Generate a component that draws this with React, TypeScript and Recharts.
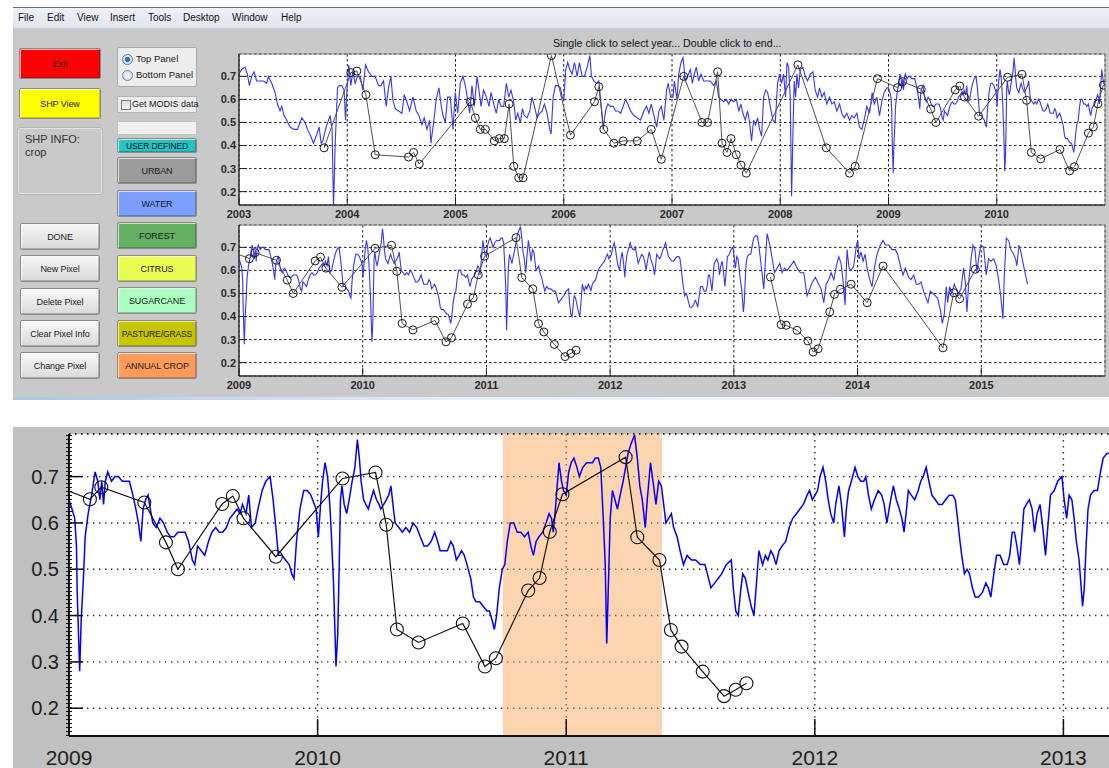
import React from "react";
import {
  LineChart,
  Line,
  XAxis,
  YAxis,
  CartesianGrid,
  ReferenceLine,
  ReferenceArea,
} from "recharts";

const FONT = '"Liberation Sans", Arial, sans-serif';

const blueEarly: [number, number][] = [
  [2003.0, 0.71], [2003.025, 0.73], [2003.056, 0.74], [2003.077, 0.71], [2003.096, 0.66], [2003.117, 0.7],
  [2003.139, 0.72], [2003.163, 0.68], [2003.194, 0.68], [2003.225, 0.68], [2003.256, 0.67], [2003.271, 0.7],
  [2003.302, 0.67], [2003.333, 0.63], [2003.355, 0.58], [2003.379, 0.55], [2003.395, 0.57], [2003.416, 0.53],
  [2003.441, 0.51], [2003.472, 0.48], [2003.509, 0.47], [2003.54, 0.47], [2003.58, 0.52], [2003.611, 0.5],
  [2003.632, 0.47], [2003.663, 0.44], [2003.688, 0.41], [2003.712, 0.44], [2003.74, 0.48], [2003.759, 0.41],
  [2003.774, 0.42], [2003.805, 0.48], [2003.842, 0.53], [2003.86, 0.47], [2003.873, 0.13], [2003.888, 0.4],
  [2003.91, 0.65], [2003.928, 0.66], [2003.95, 0.66], [2003.971, 0.64], [2003.984, 0.51], [2003.996, 0.63],
  [2004.014, 0.75], [2004.033, 0.66], [2004.051, 0.72], [2004.073, 0.67], [2004.095, 0.7], [2004.119, 0.7],
  [2004.144, 0.64], [2004.169, 0.75], [2004.196, 0.72], [2004.227, 0.7], [2004.258, 0.7], [2004.289, 0.66],
  [2004.311, 0.66], [2004.335, 0.68], [2004.36, 0.57], [2004.381, 0.65], [2004.403, 0.7], [2004.421, 0.6],
  [2004.443, 0.56], [2004.474, 0.55], [2004.505, 0.54], [2004.526, 0.62], [2004.551, 0.59], [2004.576, 0.55],
  [2004.607, 0.61], [2004.637, 0.55], [2004.662, 0.53], [2004.69, 0.49], [2004.711, 0.52], [2004.736, 0.47],
  [2004.761, 0.51], [2004.773, 0.41], [2004.798, 0.5], [2004.822, 0.6], [2004.847, 0.65], [2004.866, 0.58],
  [2004.884, 0.53], [2004.906, 0.5], [2004.927, 0.61], [2004.952, 0.61], [2004.977, 0.47], [2004.998, 0.63],
  [2005.02, 0.54], [2005.044, 0.67], [2005.069, 0.7], [2005.091, 0.66], [2005.112, 0.6], [2005.131, 0.54],
  [2005.152, 0.66], [2005.174, 0.57], [2005.199, 0.7], [2005.217, 0.64], [2005.236, 0.57], [2005.26, 0.64],
  [2005.285, 0.61], [2005.31, 0.57], [2005.328, 0.63], [2005.353, 0.58], [2005.377, 0.54], [2005.399, 0.6],
  [2005.421, 0.57], [2005.445, 0.57], [2005.47, 0.67], [2005.492, 0.61], [2005.513, 0.64], [2005.538, 0.59],
  [2005.556, 0.51], [2005.575, 0.54], [2005.599, 0.5], [2005.618, 0.56], [2005.636, 0.53], [2005.661, 0.52],
  [2005.686, 0.55], [2005.707, 0.61], [2005.729, 0.57], [2005.754, 0.52], [2005.778, 0.54], [2005.8, 0.55],
  [2005.821, 0.58], [2005.846, 0.54], [2005.871, 0.47], [2005.883, 0.45], [2005.902, 0.61], [2005.923, 0.66],
  [2005.945, 0.66], [2005.969, 0.65], [2005.985, 0.61], [2006.0, 0.6], [2006.019, 0.73], [2006.037, 0.76],
  [2006.056, 0.73], [2006.077, 0.71], [2006.099, 0.76], [2006.124, 0.7], [2006.145, 0.76], [2006.17, 0.7],
  [2006.191, 0.7], [2006.216, 0.74], [2006.241, 0.79], [2006.256, 0.7], [2006.278, 0.68], [2006.302, 0.67],
  [2006.324, 0.68], [2006.346, 0.57], [2006.364, 0.47], [2006.386, 0.55], [2006.407, 0.58], [2006.432, 0.57],
  [2006.457, 0.57], [2006.478, 0.55], [2006.5, 0.55], [2006.525, 0.54], [2006.549, 0.57], [2006.571, 0.6],
  [2006.592, 0.58], [2006.617, 0.55], [2006.648, 0.53], [2006.679, 0.52], [2006.709, 0.51], [2006.74, 0.55],
  [2006.765, 0.57], [2006.787, 0.54], [2006.808, 0.58], [2006.833, 0.53], [2006.858, 0.48], [2006.879, 0.55],
  [2006.901, 0.57], [2006.925, 0.51], [2006.95, 0.64], [2006.965, 0.67], [2006.987, 0.61], [2007.009, 0.61],
  [2007.022, 0.68], [2007.046, 0.6], [2007.062, 0.71], [2007.083, 0.76], [2007.102, 0.78], [2007.123, 0.68],
  [2007.145, 0.7], [2007.169, 0.73], [2007.188, 0.67], [2007.206, 0.71], [2007.225, 0.74], [2007.246, 0.68],
  [2007.268, 0.71], [2007.292, 0.68], [2007.323, 0.68], [2007.354, 0.68], [2007.385, 0.66], [2007.409, 0.68],
  [2007.431, 0.61], [2007.452, 0.6], [2007.477, 0.59], [2007.502, 0.6], [2007.523, 0.58], [2007.545, 0.6],
  [2007.569, 0.59], [2007.594, 0.6], [2007.618, 0.55], [2007.637, 0.58], [2007.655, 0.54], [2007.677, 0.51],
  [2007.698, 0.55], [2007.717, 0.5], [2007.735, 0.42], [2007.754, 0.51], [2007.772, 0.49], [2007.791, 0.52],
  [2007.809, 0.47], [2007.828, 0.44], [2007.846, 0.61], [2007.865, 0.64], [2007.883, 0.63], [2007.908, 0.57],
  [2007.932, 0.51], [2007.954, 0.5], [2007.975, 0.67], [2007.994, 0.71], [2008.012, 0.67], [2008.031, 0.71],
  [2008.049, 0.61], [2008.062, 0.76], [2008.077, 0.74], [2008.092, 0.61], [2008.105, 0.18], [2008.117, 0.45],
  [2008.129, 0.68], [2008.142, 0.61], [2008.154, 0.71], [2008.169, 0.65], [2008.185, 0.73], [2008.209, 0.74],
  [2008.231, 0.7], [2008.252, 0.68], [2008.277, 0.71], [2008.302, 0.72], [2008.323, 0.64], [2008.345, 0.61],
  [2008.363, 0.65], [2008.385, 0.61], [2008.406, 0.63], [2008.431, 0.58], [2008.455, 0.61], [2008.477, 0.58],
  [2008.498, 0.59], [2008.523, 0.55], [2008.548, 0.58], [2008.569, 0.54], [2008.591, 0.52], [2008.615, 0.54],
  [2008.64, 0.51], [2008.662, 0.53], [2008.683, 0.52], [2008.708, 0.54], [2008.732, 0.48], [2008.754, 0.47],
  [2008.775, 0.51], [2008.8, 0.57], [2008.825, 0.54], [2008.849, 0.63], [2008.868, 0.58], [2008.892, 0.61],
  [2008.917, 0.53], [2008.938, 0.59], [2008.96, 0.63], [2008.985, 0.65],
];

const blueMid: [number, number][] = [
  [2009.0, 0.65], [2009.012, 0.63], [2009.023, 0.61], [2009.03, 0.55], [2009.033, 0.45], [2009.043, 0.28],
  [2009.049, 0.39], [2009.058, 0.48], [2009.065, 0.57], [2009.077, 0.62], [2009.091, 0.66], [2009.105, 0.71],
  [2009.116, 0.69], [2009.124, 0.65], [2009.132, 0.69], [2009.139, 0.64], [2009.146, 0.69], [2009.156, 0.71],
  [2009.171, 0.69], [2009.185, 0.7], [2009.199, 0.7], [2009.214, 0.69], [2009.228, 0.69], [2009.243, 0.69],
  [2009.257, 0.66], [2009.269, 0.63], [2009.279, 0.6], [2009.289, 0.56], [2009.298, 0.63], [2009.308, 0.65],
  [2009.318, 0.66], [2009.327, 0.63], [2009.337, 0.6], [2009.351, 0.59], [2009.366, 0.61], [2009.38, 0.6],
  [2009.395, 0.58], [2009.409, 0.57], [2009.423, 0.57], [2009.438, 0.58], [2009.452, 0.58], [2009.467, 0.58],
  [2009.481, 0.56], [2009.496, 0.52], [2009.506, 0.51], [2009.517, 0.55], [2009.532, 0.54], [2009.546, 0.53],
  [2009.561, 0.56], [2009.575, 0.58], [2009.59, 0.59], [2009.604, 0.58], [2009.618, 0.58], [2009.633, 0.59],
  [2009.647, 0.61], [2009.662, 0.62], [2009.676, 0.63], [2009.688, 0.62], [2009.698, 0.64], [2009.712, 0.62],
  [2009.723, 0.66], [2009.734, 0.59], [2009.749, 0.6], [2009.76, 0.63], [2009.777, 0.67], [2009.792, 0.69],
  [2009.809, 0.7], [2009.821, 0.65], [2009.832, 0.59], [2009.842, 0.53], [2009.857, 0.53], [2009.871, 0.52],
  [2009.886, 0.51], [2009.896, 0.49], [2009.905, 0.48], [2009.915, 0.56], [2009.929, 0.63], [2009.944, 0.67],
  [2009.958, 0.67], [2009.973, 0.66], [2009.987, 0.64], [2009.994, 0.63], [2010.003, 0.57], [2010.012, 0.64],
  [2010.02, 0.69], [2010.03, 0.73], [2010.04, 0.7], [2010.049, 0.64], [2010.055, 0.58], [2010.064, 0.47],
  [2010.074, 0.29], [2010.081, 0.36], [2010.087, 0.51], [2010.092, 0.65], [2010.098, 0.68], [2010.107, 0.64],
  [2010.117, 0.62], [2010.127, 0.65], [2010.139, 0.69], [2010.15, 0.72], [2010.16, 0.78], [2010.168, 0.74],
  [2010.175, 0.69], [2010.185, 0.65], [2010.194, 0.64], [2010.204, 0.63], [2010.214, 0.65], [2010.225, 0.67],
  [2010.237, 0.65], [2010.247, 0.64], [2010.254, 0.63], [2010.266, 0.64], [2010.276, 0.65], [2010.286, 0.66],
  [2010.295, 0.68], [2010.305, 0.63], [2010.312, 0.6], [2010.327, 0.59], [2010.341, 0.58], [2010.355, 0.59],
  [2010.37, 0.58], [2010.384, 0.6], [2010.399, 0.59], [2010.413, 0.57], [2010.428, 0.55], [2010.442, 0.55],
  [2010.457, 0.56], [2010.471, 0.58], [2010.483, 0.56], [2010.493, 0.54], [2010.507, 0.54], [2010.522, 0.54],
  [2010.536, 0.56], [2010.546, 0.55], [2010.558, 0.52], [2010.569, 0.53], [2010.579, 0.54], [2010.59, 0.53],
  [2010.601, 0.51], [2010.616, 0.48], [2010.627, 0.44], [2010.637, 0.43], [2010.652, 0.43], [2010.666, 0.42],
  [2010.681, 0.41], [2010.691, 0.41], [2010.702, 0.39], [2010.711, 0.37], [2010.72, 0.4], [2010.731, 0.46],
  [2010.743, 0.5], [2010.753, 0.51], [2010.763, 0.56], [2010.775, 0.6], [2010.789, 0.6], [2010.803, 0.58],
  [2010.818, 0.58], [2010.832, 0.57], [2010.847, 0.58], [2010.858, 0.55], [2010.868, 0.53], [2010.879, 0.56],
  [2010.89, 0.57], [2010.905, 0.58], [2010.919, 0.6], [2010.931, 0.62], [2010.941, 0.61], [2010.948, 0.58],
  [2010.955, 0.62], [2010.971, 0.73], [2010.981, 0.69], [2010.989, 0.67], [2011.0, 0.66], [2011.01, 0.71],
  [2011.02, 0.73], [2011.031, 0.74], [2011.043, 0.72], [2011.053, 0.7], [2011.067, 0.72], [2011.082, 0.73],
  [2011.096, 0.73], [2011.106, 0.73], [2011.117, 0.74], [2011.129, 0.74], [2011.139, 0.72], [2011.149, 0.61],
  [2011.157, 0.51], [2011.163, 0.34], [2011.172, 0.51], [2011.177, 0.61], [2011.186, 0.67], [2011.196, 0.65],
  [2011.206, 0.63], [2011.217, 0.66], [2011.229, 0.69], [2011.239, 0.72], [2011.249, 0.75], [2011.26, 0.77],
  [2011.275, 0.79], [2011.286, 0.74], [2011.296, 0.68], [2011.306, 0.65], [2011.318, 0.59], [2011.326, 0.65],
  [2011.339, 0.73], [2011.349, 0.69], [2011.361, 0.64], [2011.372, 0.69], [2011.383, 0.68], [2011.392, 0.64],
  [2011.401, 0.6], [2011.412, 0.61], [2011.423, 0.62], [2011.432, 0.59], [2011.446, 0.57], [2011.458, 0.54],
  [2011.472, 0.51], [2011.486, 0.53], [2011.504, 0.52], [2011.521, 0.52], [2011.539, 0.51], [2011.558, 0.51],
  [2011.568, 0.49], [2011.582, 0.46], [2011.597, 0.47], [2011.611, 0.48], [2011.625, 0.49], [2011.644, 0.51],
  [2011.664, 0.52], [2011.672, 0.46], [2011.682, 0.41], [2011.692, 0.4], [2011.701, 0.45], [2011.71, 0.49],
  [2011.721, 0.48], [2011.732, 0.45], [2011.744, 0.42], [2011.755, 0.4], [2011.764, 0.46], [2011.775, 0.54],
  [2011.79, 0.51], [2011.801, 0.53], [2011.811, 0.52], [2011.823, 0.54], [2011.833, 0.53], [2011.844, 0.51],
  [2011.856, 0.54], [2011.868, 0.55], [2011.883, 0.56], [2011.897, 0.59], [2011.911, 0.61], [2011.926, 0.62],
  [2011.94, 0.63], [2011.954, 0.64], [2011.969, 0.66], [2011.979, 0.67], [2011.99, 0.65], [2012.001, 0.66],
  [2012.011, 0.67], [2012.021, 0.7], [2012.033, 0.72], [2012.044, 0.69], [2012.054, 0.65], [2012.064, 0.62],
  [2012.076, 0.6], [2012.084, 0.64], [2012.097, 0.68], [2012.107, 0.64], [2012.119, 0.57], [2012.127, 0.63],
  [2012.136, 0.67], [2012.147, 0.69], [2012.162, 0.72], [2012.173, 0.7], [2012.185, 0.69], [2012.197, 0.69],
  [2012.205, 0.7], [2012.216, 0.66], [2012.227, 0.63], [2012.24, 0.65], [2012.255, 0.67], [2012.269, 0.66],
  [2012.279, 0.64], [2012.29, 0.6], [2012.305, 0.65], [2012.316, 0.68], [2012.328, 0.65], [2012.34, 0.63],
  [2012.35, 0.61], [2012.359, 0.58], [2012.369, 0.63], [2012.376, 0.67], [2012.388, 0.66], [2012.402, 0.65],
  [2012.416, 0.67], [2012.426, 0.69], [2012.436, 0.7], [2012.448, 0.72], [2012.459, 0.69], [2012.471, 0.66],
  [2012.485, 0.65], [2012.498, 0.64], [2012.512, 0.64], [2012.526, 0.65], [2012.541, 0.66], [2012.555, 0.66],
  [2012.565, 0.65], [2012.574, 0.61], [2012.584, 0.56], [2012.591, 0.53], [2012.602, 0.49], [2012.612, 0.5],
  [2012.622, 0.49], [2012.634, 0.46], [2012.645, 0.44], [2012.659, 0.44], [2012.674, 0.45], [2012.688, 0.47],
  [2012.698, 0.46], [2012.708, 0.44], [2012.72, 0.49], [2012.731, 0.53], [2012.745, 0.53], [2012.76, 0.51],
  [2012.774, 0.51], [2012.784, 0.53], [2012.794, 0.58], [2012.803, 0.58], [2012.813, 0.55], [2012.823, 0.51],
  [2012.831, 0.56], [2012.841, 0.63], [2012.851, 0.64], [2012.863, 0.65], [2012.874, 0.63], [2012.884, 0.58],
  [2012.894, 0.62], [2012.906, 0.64], [2012.917, 0.59], [2012.928, 0.53], [2012.937, 0.59], [2012.948, 0.66],
  [2012.963, 0.67], [2012.977, 0.69], [2012.994, 0.7], [2013.003, 0.65], [2013.013, 0.61], [2013.023, 0.66],
  [2013.034, 0.65], [2013.043, 0.61], [2013.052, 0.56], [2013.063, 0.52], [2013.077, 0.42], [2013.084, 0.46],
  [2013.092, 0.56], [2013.099, 0.63], [2013.109, 0.66], [2013.123, 0.67], [2013.137, 0.67], [2013.149, 0.71],
  [2013.16, 0.74], [2013.175, 0.75], [2013.189, 0.75],
];

const blueLate: [number, number][] = [
  [2013.202, 0.71], [2013.221, 0.62], [2013.242, 0.52], [2013.256, 0.65], [2013.269, 0.76], [2013.291, 0.71],
  [2013.31, 0.65], [2013.328, 0.59], [2013.35, 0.61], [2013.371, 0.63], [2013.39, 0.59], [2013.409, 0.61],
  [2013.431, 0.6], [2013.458, 0.62], [2013.485, 0.64], [2013.511, 0.61], [2013.538, 0.59], [2013.565, 0.59],
  [2013.592, 0.49], [2013.614, 0.52], [2013.635, 0.55], [2013.659, 0.57], [2013.686, 0.54], [2013.705, 0.52],
  [2013.727, 0.46], [2013.746, 0.54], [2013.767, 0.56], [2013.786, 0.59], [2013.808, 0.56], [2013.829, 0.62],
  [2013.848, 0.66], [2013.867, 0.63], [2013.883, 0.55], [2013.899, 0.45], [2013.915, 0.69], [2013.931, 0.61],
  [2013.947, 0.6], [2013.969, 0.62], [2013.991, 0.71], [2014.001, 0.73], [2014.012, 0.65], [2014.028, 0.68],
  [2014.044, 0.64], [2014.061, 0.67], [2014.077, 0.61], [2014.098, 0.56], [2014.117, 0.53], [2014.136, 0.61],
  [2014.157, 0.67], [2014.184, 0.71], [2014.206, 0.73], [2014.225, 0.71], [2014.252, 0.71], [2014.279, 0.69],
  [2014.306, 0.69], [2014.324, 0.67], [2014.346, 0.62], [2014.367, 0.58], [2014.386, 0.61], [2014.413, 0.57],
  [2014.432, 0.56], [2014.454, 0.58], [2014.475, 0.54], [2014.494, 0.54], [2014.513, 0.55], [2014.534, 0.51],
  [2014.553, 0.48], [2014.569, 0.46], [2014.588, 0.51], [2014.61, 0.5], [2014.629, 0.49], [2014.647, 0.48],
  [2014.669, 0.43], [2014.685, 0.37], [2014.701, 0.41], [2014.717, 0.53], [2014.728, 0.46], [2014.744, 0.53],
  [2014.763, 0.5], [2014.782, 0.54], [2014.798, 0.52], [2014.817, 0.5], [2014.836, 0.52], [2014.857, 0.61],
  [2014.871, 0.55], [2014.884, 0.42], [2014.9, 0.56], [2014.917, 0.65], [2014.933, 0.71], [2014.949, 0.69],
  [2014.965, 0.59], [2014.978, 0.65], [2014.997, 0.71], [2015.019, 0.7], [2015.04, 0.58], [2015.059, 0.65],
  [2015.078, 0.64], [2015.1, 0.65], [2015.121, 0.62], [2015.14, 0.56], [2015.159, 0.48], [2015.175, 0.39],
  [2015.186, 0.58], [2015.202, 0.74], [2015.221, 0.73], [2015.24, 0.69], [2015.261, 0.67], [2015.277, 0.65],
  [2015.288, 0.62], [2015.304, 0.71], [2015.32, 0.68], [2015.342, 0.62], [2015.358, 0.58], [2015.374, 0.54],
];

// clicked points (circles joined by the black line)
const picksEarly: [number, number][] = [
  [2003.786, 0.39], [2004.033, 0.716], [2004.089, 0.723], [2004.172, 0.62], [2004.258, 0.36], [2004.566, 0.35],
  [2004.613, 0.37], [2004.665, 0.32], [2005.137, 0.59], [2005.183, 0.52], [2005.229, 0.47], [2005.276, 0.47],
  [2005.359, 0.42], [2005.405, 0.43], [2005.451, 0.43], [2005.495, 0.58], [2005.538, 0.31], [2005.584, 0.26],
  [2005.624, 0.26], [2005.886, 0.79], [2006.062, 0.445], [2006.284, 0.59], [2006.324, 0.655], [2006.37, 0.47],
  [2006.463, 0.41], [2006.549, 0.42], [2006.679, 0.42], [2006.808, 0.47], [2006.901, 0.34], [2007.108, 0.7],
  [2007.277, 0.5], [2007.329, 0.5], [2007.422, 0.72], [2007.462, 0.41], [2007.508, 0.37], [2007.545, 0.43],
  [2007.594, 0.36], [2007.637, 0.315], [2007.686, 0.28], [2008.163, 0.75], [2008.425, 0.39], [2008.64, 0.28],
  [2008.692, 0.31], [2008.898, 0.69],
];

const picksMid: [number, number][] = [
  [2009.084, 0.651], [2009.13, 0.677], [2009.303, 0.644], [2009.39, 0.558], [2009.438, 0.5], [2009.616, 0.641],
  [2009.659, 0.658], [2009.702, 0.61], [2009.832, 0.527], [2010.1, 0.696], [2010.233, 0.709], [2010.276, 0.596],
  [2010.319, 0.37], [2010.406, 0.342], [2010.584, 0.383], [2010.673, 0.29], [2010.717, 0.308], [2010.847, 0.454],
  [2010.893, 0.481], [2010.934, 0.581], [2010.985, 0.662], [2011.239, 0.742], [2011.286, 0.569], [2011.375, 0.52],
  [2011.421, 0.369], [2011.464, 0.333], [2011.549, 0.279], [2011.635, 0.226], [2011.682, 0.24], [2011.725, 0.254],
];

const picksLate: [number, number][] = [
  [2013.296, 0.571], [2013.382, 0.365], [2013.423, 0.362], [2013.511, 0.34], [2013.598, 0.294], [2013.641, 0.246],
  [2013.681, 0.26], [2013.775, 0.42], [2013.813, 0.496], [2013.861, 0.518], [2013.948, 0.54], [2014.077, 0.46],
  [2014.206, 0.619], [2014.69, 0.264], [2014.777, 0.503], [2014.825, 0.477], [2014.952, 0.605],
];

const topYears = [2003, 2004, 2005, 2006, 2007, 2008, 2009, 2010];
const bottomYears = [2009, 2010, 2011, 2012, 2013, 2014, 2015];
const zoomYears = [2009, 2010, 2011, 2012, 2013];
const valueTicks = [0.2, 0.3, 0.4, 0.5, 0.6, 0.7];
const selectedYear = [2010.745, 2011.385];

const SMALL_Y: [number, number] = [0.142, 0.797];
const BIG_Y: [number, number] = [0.14, 0.792];

const toRows = (pts: [number, number][]) => pts.map(([x, v]) => ({ x, v: v as number | null }));
const blueRows = toRows([...blueEarly, ...blueMid, ...blueLate]);
// gap between the 2011 and 2013 picks: no segment is drawn there
const pickRows = [...toRows(picksEarly), ...toRows(picksMid), { x: 2012.5, v: null }, ...toRows(picksLate)];

function SmallXTick(props: any) {
  const { x, y, payload } = props;
  return (
    <g>
      <line x1={x} x2={x} y1={y} y2={y - 8} stroke="#222" strokeWidth={1} />
      <text x={x} y={y + 13} textAnchor="middle" fontFamily={FONT} fontSize={11} fontWeight="bold" fill="#2a2a2a">
        {payload.value}
      </text>
    </g>
  );
}

function SmallYTick(props: any) {
  const { x, y, payload } = props;
  return (
    <g>
      <line x1={x} x2={x + 8} y1={y} y2={y} stroke="#222" strokeWidth={1} />
      <text x={x - 3} y={y} dy="0.36em" textAnchor="end" fontFamily={FONT} fontSize={11} fontWeight="bold" fill="#2a2a2a">
        {payload.value.toFixed(1)}
      </text>
    </g>
  );
}

function BigXTick(props: any) {
  const { x, y, payload } = props;
  return (
    <g>
      <line x1={x} x2={x} y1={y} y2={y - 17} stroke="#111" strokeWidth={1.5} />
      <text x={x} y={y + 29} textAnchor="middle" fontFamily={FONT} fontSize={21} fill="#1e1e1e">
        {payload.value}
      </text>
    </g>
  );
}

function BigYTick(props: any) {
  const { x, y, payload } = props;
  return (
    <g>
      <line x1={x} x2={x + 14} y1={y} y2={y} stroke="#111" strokeWidth={1.5} />
      <text x={x - 10} y={y} dy="0.36em" textAnchor="end" fontFamily={FONT} fontSize={20} fill="#1e1e1e">
        {payload.value.toFixed(1)}
      </text>
    </g>
  );
}

function SmallPanel({ top, domain, years }: { top: number; domain: [number, number]; years: number[] }) {
  return (
    <div style={{ position: "absolute", left: 180, top: top - 9 }}>
      <LineChart width={935} height={176} margin={{ top: 9, right: 10, bottom: 0, left: 0 }}>
        <CartesianGrid fill="#fff" stroke="#1c1c1c" strokeDasharray="2.5 2.5" />
        <XAxis
          dataKey="x"
          type="number"
          domain={domain}
          ticks={years}
          interval={0}
          allowDataOverflow
          height={16}
          tickSize={0}
          tickMargin={0}
          tickLine={false}
          axisLine={{ stroke: "#333", strokeWidth: 1.5 }}
          tick={(p: any) => <SmallXTick {...p} />}
        />
        <YAxis
          type="number"
          domain={SMALL_Y}
          ticks={valueTicks}
          interval={0}
          allowDataOverflow
          width={59}
          tickSize={0}
          tickMargin={0}
          tickLine={false}
          axisLine={{ stroke: "#333", strokeWidth: 1.5 }}
          tick={(p: any) => <SmallYTick {...p} />}
        />
        <ReferenceLine y={SMALL_Y[1]} stroke="#8a8a8a" />
        <ReferenceLine x={domain[1]} stroke="#8a8a8a" />
        <Line data={blueRows} dataKey="v" stroke="#3535ff" strokeWidth={1.1} dot={false} activeDot={false} isAnimationActive={false} />
        <Line
          data={pickRows}
          dataKey="v"
          stroke="#505050"
          strokeWidth={1}
          connectNulls={false}
          dot={{ r: 4, stroke: "#1a1a1a", strokeWidth: 1, fill: "none" }}
          activeDot={false}
          isAnimationActive={false}
        />
      </LineChart>
    </div>
  );
}

function ZoomPanel() {
  return (
    <div style={{ position: "absolute", left: 0, top: 425 }}>
      <LineChart width={1148} height={343} margin={{ top: 9, right: 10, bottom: 0, left: 0 }}>
        <CartesianGrid fill="#fff" stroke="#2a2a2a" strokeWidth={1.4} strokeDasharray="1.4 4.6" />
        <XAxis
          dataKey="x"
          type="number"
          domain={[2009, 2013.3]}
          ticks={zoomYears}
          interval={0}
          allowDataOverflow
          height={32}
          tickSize={0}
          tickMargin={0}
          tickLine={false}
          axisLine={{ stroke: "#111", strokeWidth: 2 }}
          tick={(p: any) => <BigXTick {...p} />}
        />
        <YAxis
          type="number"
          domain={BIG_Y}
          ticks={valueTicks}
          interval={0}
          allowDataOverflow
          width={69}
          tickSize={0}
          tickMargin={0}
          tickLine={false}
          axisLine={{ stroke: "#111", strokeWidth: 2 }}
          tick={(p: any) => <BigYTick {...p} />}
        />
        <ReferenceArea x1={selectedYear[0]} x2={selectedYear[1]} fill="#fb9f50" fillOpacity={0.45} stroke="none" />
        <ReferenceLine y={BIG_Y[1]} stroke="#2a2a2a" strokeWidth={1.4} strokeDasharray="1.4 4.6" />
        <ReferenceLine x={2009} stroke="#111" strokeWidth={6} strokeDasharray="1 3" />
        <Line data={blueRows} dataKey="v" stroke="#0000ff" strokeWidth={1.5} dot={false} activeDot={false} isAnimationActive={false} />
        <Line
          data={pickRows}
          dataKey="v"
          stroke="#111"
          strokeWidth={1.2}
          connectNulls={false}
          dot={{ r: 6.5, stroke: "#111", strokeWidth: 1.1, fill: "none" }}
          activeDot={false}
          isAnimationActive={false}
        />
      </LineChart>
    </div>
  );
}

function Btn({ left, top, w, h, bg, label, size = 9 }: { left: number; top: number; w: number; h: number; bg: string; label: string; size?: number }) {
  return (
    <div
      style={{
        position: "absolute",
        left,
        top,
        width: w,
        height: h,
        boxSizing: "border-box",
        background: bg,
        border: "1px solid #8a8a8a",
        borderRadius: 2,
        boxShadow: "inset 1px 1px 0 rgba(255,255,255,0.65), inset -1px -1px 0 rgba(0,0,0,0.22)",
        display: "flex",
        alignItems: "center",
        justifyContent: "center",
        fontSize: size,
        color: "#1a1a1a",
        whiteSpace: "nowrap",
        letterSpacing: -0.1,
      }}
    >
      {label}
    </div>
  );
}

const menuItems: [string, number][] = [
  ["File", 18], ["Edit", 47], ["View", 77], ["Insert", 110], ["Tools", 148], ["Desktop", 183], ["Window", 232], ["Help", 281],
];

const classButtons: [string, string, number, number][] = [
  ["USER DEFINED", "#25c3c3", 138, 15],
  ["URBAN", "#9b9b9b", 157, 27],
  ["WATER", "#7c9eff", 190, 27],
  ["FOREST", "#63b063", 222, 27],
  ["CITRUS", "#e8ff52", 255, 27],
  ["SUGARCANE", "#abffc2", 287, 27],
  ["PASTURE/GRASS", "#c6c600", 320, 27],
  ["ANNUAL CROP", "#ff9c5a", 352, 27],
];

const toolButtons: [string, number][] = [
  ["DONE", 223], ["New Pixel", 255], ["Delete Pixel", 288], ["Clear Pixel Info", 320], ["Change Pixel", 352],
];

const grayBtn = "linear-gradient(#f7f7f7, #dadada)";

export default function App() {
  return (
    <div
      style={{
        position: "absolute",
        left: 0,
        top: 0,
        width: 1109,
        height: 768,
        overflow: "hidden",
        background: "#fff",
        fontFamily: FONT,
      }}
    >
      {/* window frame */}
      <div style={{ position: "absolute", left: 13, top: 7, width: 1096, height: 1, background: "#6e6e6e" }} />
      <div
        style={{
          position: "absolute",
          left: 13,
          top: 8,
          width: 1096,
          height: 20,
          background: "linear-gradient(#eef2f7, #dfe5ec)",
          borderBottom: "1px solid #c3cad3",
        }}
      >
        {menuItems.map(([m, x]) => (
          <span key={m} style={{ position: "absolute", left: x - 13, top: 4, fontSize: 10, color: "#111" }}>
            {m}
          </span>
        ))}
      </div>
      <div style={{ position: "absolute", left: 13, top: 29, width: 1096, height: 368, background: "#c9c9c9" }} />
      <div style={{ position: "absolute", left: 13, top: 397, width: 1096, height: 3, background: "linear-gradient(90deg, #a9c4e4, #e4eef8 40%, #f2f7fc)" }} />

      {/* left controls */}
      <Btn left={19} top={48} w={82} h={31} bg="#ff0000" label="Exit" />
      <Btn left={19} top={88} w={82} h={31} bg="#ffff00" label="SHP View" />
      <div style={{ position: "absolute", left: 18, top: 128, width: 84, height: 66, boxSizing: "border-box", border: "1px solid #e4e4e4", outline: "1px solid #b5b5b5", borderRadius: 2 }}>
        <div style={{ position: "absolute", left: 6, top: 4, fontSize: 11, color: "#333", lineHeight: "13px" }}>
          SHP INFO:
          <br />
          crop
        </div>
      </div>
      {toolButtons.map(([label, top]) => (
        <Btn key={label} left={20} top={top} w={80} h={27} bg={grayBtn} label={label} />
      ))}

      <div style={{ position: "absolute", left: 117, top: 47, width: 80, height: 40, boxSizing: "border-box", background: "#ececec", border: "1px solid #a9a9a9", borderRadius: 2 }}>
        <div style={{ position: "absolute", left: 4, top: 6, width: 9, height: 9, borderRadius: "50%", border: "1px solid #5c7896", background: "radial-gradient(circle, #2a6fb5 0 35%, #cfe2f5 45%)" }} />
        <span style={{ position: "absolute", left: 18, top: 5, fontSize: 9.5, color: "#1a1a1a", whiteSpace: "nowrap" }}>Top Panel</span>
        <div style={{ position: "absolute", left: 4, top: 22, width: 9, height: 9, borderRadius: "50%", border: "1px solid #6b84a0", background: "radial-gradient(circle, #f4f8fc, #c9dcef)" }} />
        <span style={{ position: "absolute", left: 18, top: 21, fontSize: 9.5, color: "#1a1a1a", whiteSpace: "nowrap" }}>Bottom Panel</span>
      </div>
      <div style={{ position: "absolute", left: 117, top: 96, width: 80, height: 17, boxSizing: "border-box", background: "#ececec", border: "1px solid #b3b3b3", borderRadius: 1 }}>
        <div style={{ position: "absolute", left: 3, top: 3, width: 8, height: 8, border: "1px solid #7a7a7a", background: "linear-gradient(#dcdcdc, #fafafa)" }} />
        <span style={{ position: "absolute", left: 14, top: 2, fontSize: 9, color: "#1a1a1a", whiteSpace: "nowrap" }}>Get MODIS data</span>
      </div>
      <div style={{ position: "absolute", left: 117, top: 121, width: 80, height: 14, boxSizing: "border-box", background: "#efefef", border: "1px solid #c2c2c2" }} />
      {classButtons.map(([label, color, top, h]) => (
        <Btn key={label} left={117} top={top} w={80} h={h} bg={color} label={label} size={label.length > 11 ? 8.5 : 9} />
      ))}

      <div style={{ position: "absolute", left: 553, top: 37, fontSize: 10.6, color: "#111", whiteSpace: "nowrap" }}>
        Single click to select year... Double click to end...
      </div>

      <SmallPanel top={54} domain={[2003, 2011]} years={topYears} />
      <SmallPanel top={225} domain={[2009, 2016]} years={bottomYears} />

      {/* zoomed figure */}
      <div style={{ position: "absolute", left: 13, top: 427, width: 1096, height: 341, background: "#c0c0c0" }} />
      <ZoomPanel />
    </div>
  );
}
